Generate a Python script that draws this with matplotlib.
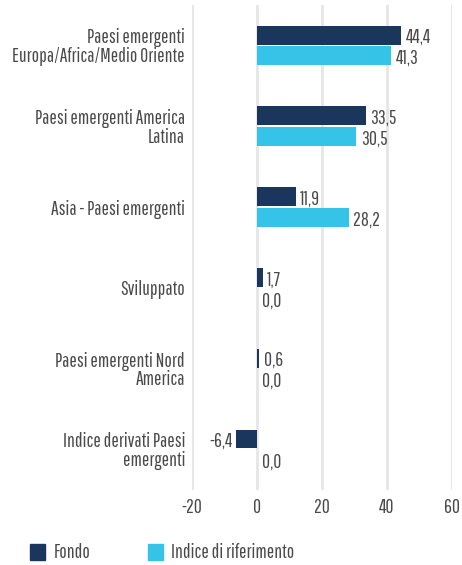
import numpy as np
import matplotlib.pyplot as plt
from matplotlib.patches import Rectangle

categories = ['Paesi emergenti\nEuropa/Africa/Medio Oriente',
              'Paesi emergenti America\nLatina',
              'Asia - Paesi emergenti',
              'Sviluppato',
              'Paesi emergenti Nord\nAmerica',
              'Indice derivati Paesi\nemergenti']
fondo = [44.4, 33.5, 11.9, 1.7, 0.6, -6.4]
indice = [41.3, 30.5, 28.2, 0.0, 0.0, 0.0]
series_names = ['Fondo', 'Indice di riferimento']
xticks = [-20, 0, 20, 40, 60]

c_fondo = '#1b365d'
c_indice = '#35c3e8'
txt = '#4a4a4a'
FS = 14
plt.rcParams['font.family'] = ['Pathway Gothic One', 'DejaVu Sans']

fig = plt.figure(figsize=(4.62, 5.65), dpi=100)
ax = fig.add_axes([0.4156, 0.133, 0.5628, 0.858])

y = np.arange(len(categories))
h = 0.235
off = h / 2 + 0.012
ax.barh(y - off, fondo, height=h, color=c_fondo, zorder=3)
ax.barh(y + off, indice, height=h, color=c_indice, zorder=3)

def fmt(v):
    return ('%.1f' % v).replace('.', ',')

# value labels, sitting a touch below bar centre like the reference
for i in range(len(categories)):
    for v, yy in ((fondo[i], y[i] - off), (indice[i], y[i] + off)):
        if v < 0:
            ax.text(v - 1.2, yy + 0.03, fmt(v), ha='right', va='center', fontsize=FS, color=txt)
        else:
            ax.text(v + 1.4, yy + 0.03, fmt(v), ha='left', va='center', fontsize=FS, color=txt)

ax.set_xlim(-20, 60)
ax.set_ylim(len(categories) - 0.5, -0.5)
ax.set_xticks(xticks)
ax.set_xticklabels([str(t) for t in xticks], fontsize=FS, color=txt)
ax.set_yticks(y)
ax.set_yticklabels(categories, fontsize=FS, color=txt, linespacing=0.95)
ax.tick_params(axis='both', length=0, pad=5)
ax.tick_params(axis='x', pad=6)
ax.grid(axis='x', color='#e6e6e6', linewidth=2, zorder=0)
for s in ax.spines.values():
    s.set_visible(False)

# legend
fig.patches.append(Rectangle((30 / 462, 1 - 560 / 565), 15 / 462, 16 / 565,
                             transform=fig.transFigure, color=c_fondo))
fig.text(54 / 462, 1 - 552 / 565, series_names[0], fontsize=FS, color=txt, va='center')
fig.patches.append(Rectangle((148 / 462, 1 - 560 / 565), 15 / 462, 16 / 565,
                             transform=fig.transFigure, color=c_indice))
fig.text(171 / 462, 1 - 552 / 565, series_names[1], fontsize=FS, color=txt, va='center')

fig.savefig('out.png', dpi=100)
